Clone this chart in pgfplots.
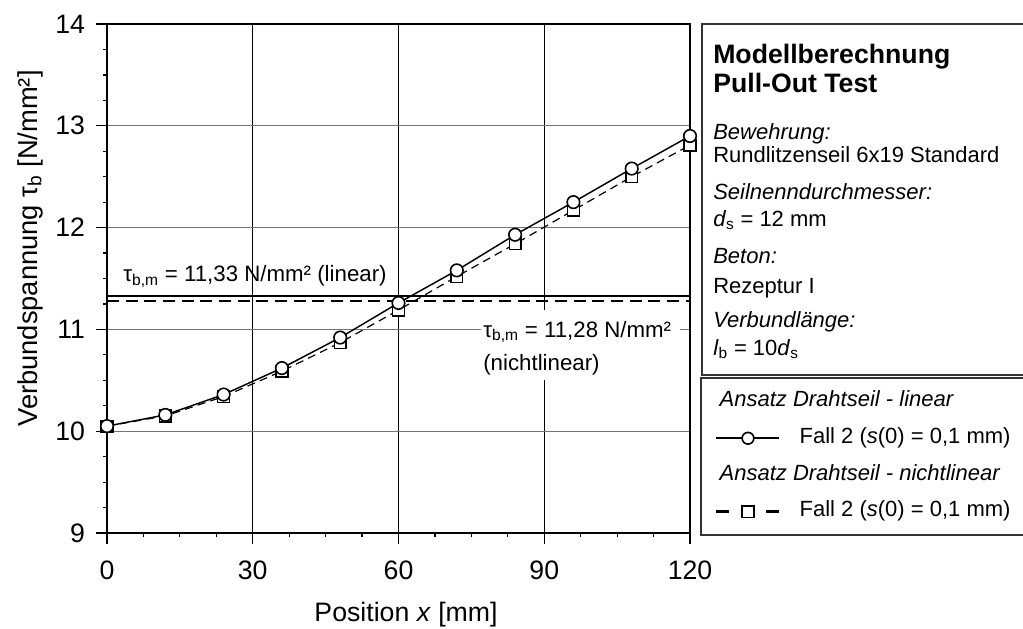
\documentclass[border=0pt]{standalone}
\usepackage{fontspec}
\setmainfont{Liberation Sans}
\usepackage{pgfplots}
\usepackage{pgfplotstable}
\pgfplotsset{compat=1.18}
\pgfplotsset{
  legA/.style={legend image code/.code={\draw[mark repeat=2,mark phase=2,##1] plot coordinates {(0pt,0pt) (23.625pt,0pt) (47.25pt,0pt)};}},
  legB/.style={legend image code/.code={\draw[mark repeat=2,mark phase=2,##1, dash pattern=on 9.75pt off 27.75pt] plot coordinates {(0pt,0pt) (23.625pt,0pt) (47.25pt,0pt)};}},
}

\pgfplotstableread{
x lin nl
0 10.05 10.05
12 10.16 10.15
24 10.36 10.34
36 10.62 10.59
48 10.92 10.87
60 11.26 11.19
72 11.58 11.52
84 11.93 11.84
96 12.25 12.17
108 12.58 12.50
120 12.90 12.81
}\datatable

\begin{document}
\begin{tikzpicture}
\useasboundingbox (0,0) rectangle (767.25pt,-471pt);
\begin{axis}[
 at={(80.25pt,-399.75pt)}, anchor=south west,
 scale only axis, width=437.25pt, height=381.75pt,
 xmin=0, xmax=120, ymin=9, ymax=14,
 xtick={0,30,...,120}, ytick={9,...,14},
 minor x tick num=3, minor y tick num=3,
 xtick pos=bottom, ytick pos=left,
 tick align=outside, major tick length=8pt, minor tick length=3pt,
 every tick/.style={black, line width=0.9pt},
 xmajorgrids, ymajorgrids,
 x grid style={black, line width=0.6pt},
 y grid style={black!55, line width=0.8pt},
 axis line style={line width=1.3pt},
 /pgf/number format/assume math mode=true,
 tick label style={font=\fontsize{20}{20}\selectfont},
 xticklabel shift=9pt, yticklabel shift=5pt,
 clip=false,
 legend cell align=left,
 legend style={at={(rel axis cs:1.0429,0.2849)}, anchor=north west, draw=none, fill=none, inner sep=0pt,
   font=\fontsize{16.5}{16.5}\selectfont, row sep=7.5pt, column sep=14.25pt,
   nodes={inner xsep=0pt, inner ysep=2pt, text height=12pt, text depth=4pt}},
]
\addplot[forget plot, black, line width=1.5pt] coordinates {(0,11.33) (120,11.33)};
\addplot[forget plot, black, line width=1.5pt, dash pattern=on 9pt off 5pt] coordinates {(0,11.28) (120,11.28)};
\addplot[forget plot, black, line width=0.9pt, dash pattern=on 6pt off 4pt, mark=square*, mark size=4.4pt, mark options={solid, fill=white, line width=1.1pt}] table[x=x,y=nl] {\datatable};
\addplot[forget plot, black, line width=1.1pt, mark=*, mark size=4.7pt, mark options={fill=white, line width=1.2pt}] table[x=x,y=lin] {\datatable};

\fill[white] (axis cs:76.95,11.19) rectangle (axis cs:117.95,10.503);
\node[anchor=base west, inner sep=0pt, font=\fontsize{16.7}{16.7}\selectfont] at (axis cs:3.3,11.47) {τ\textsubscript{b,m} = 11,33 N/mm² (linear)};
\node[anchor=base west, inner sep=0pt, font=\fontsize{16.7}{16.7}\selectfont] at (axis cs:77.4,10.922) {τ\textsubscript{b,m} = 11,28 N/mm²};
\node[anchor=base west, inner sep=0pt, font=\fontsize{16.7}{16.7}\selectfont] at (axis cs:77.4,10.594) {(nichtlinear)};

\addlegendimage{empty legend}
\addlegendentry{\hspace{-60pt}\textit{Ansatz Drahtseil - linear}}
\addlegendimage{black, line width=1.8pt, mark=*, mark size=4.4pt, mark options={fill=white, line width=1.2pt}, legA}
\addlegendentry{Fall 2 (\textit{s}(0) = 0,1 mm)}
\addlegendimage{empty legend}
\addlegendentry{\hspace{-60pt}\textit{Ansatz Drahtseil - nichtlinear}}
\addlegendimage{black, line width=1.8pt, mark=square*, mark size=4.4pt, mark options={solid, fill=white, line width=1.2pt}, legB}
\addlegendentry{Fall 2 (\textit{s}(0) = 0,1 mm)}
\end{axis}

\begin{scope}[x=0.75pt, y=-0.75pt]
\node[rotate=90, anchor=base, inner sep=0pt, font=\fontsize{20.5}{20.5}\selectfont] at (37,248.5) {Verbundspannung τ\textsubscript{b} [N/mm²]};
\node[anchor=base, inner sep=0pt, font=\fontsize{20}{20}\selectfont] at (406,621) {Position \textit{x} [mm]};

\draw[line width=1.1pt, black!80] (702,24) rectangle (1040,375);
\draw[line width=1.1pt, black!80] (701,378) rectangle (1040,535);

\begin{scope}[every node/.style={anchor=base west, inner sep=0pt, font=\fontsize{16.5}{16.5}\selectfont}]
\node[font=\fontsize{20}{20}\selectfont\bfseries] at (713,63) {Modellberechnung};
\node[font=\fontsize{20}{20}\selectfont\bfseries] at (713,92) {Pull-Out Test};
\node at (713,139) {\textit{Bewehrung:}};
\node at (713,162) {Rundlitzenseil 6x19 Standard};
\node at (713,199) {\textit{Seilnenndurchmesser:}};
\node at (713,226) {\textit{d}\textsubscript{s} = 12 mm};
\node at (713,263) {\textit{Beton:}};
\node at (713,293) {Rezeptur I};
\node at (713,327) {\textit{Verbundlänge:}};
\node at (713,355) {\textit{l}\textsubscript{b} = 10\textit{d}\textsubscript{s}};
\end{scope}
\end{scope}
\end{tikzpicture}
\end{document}
